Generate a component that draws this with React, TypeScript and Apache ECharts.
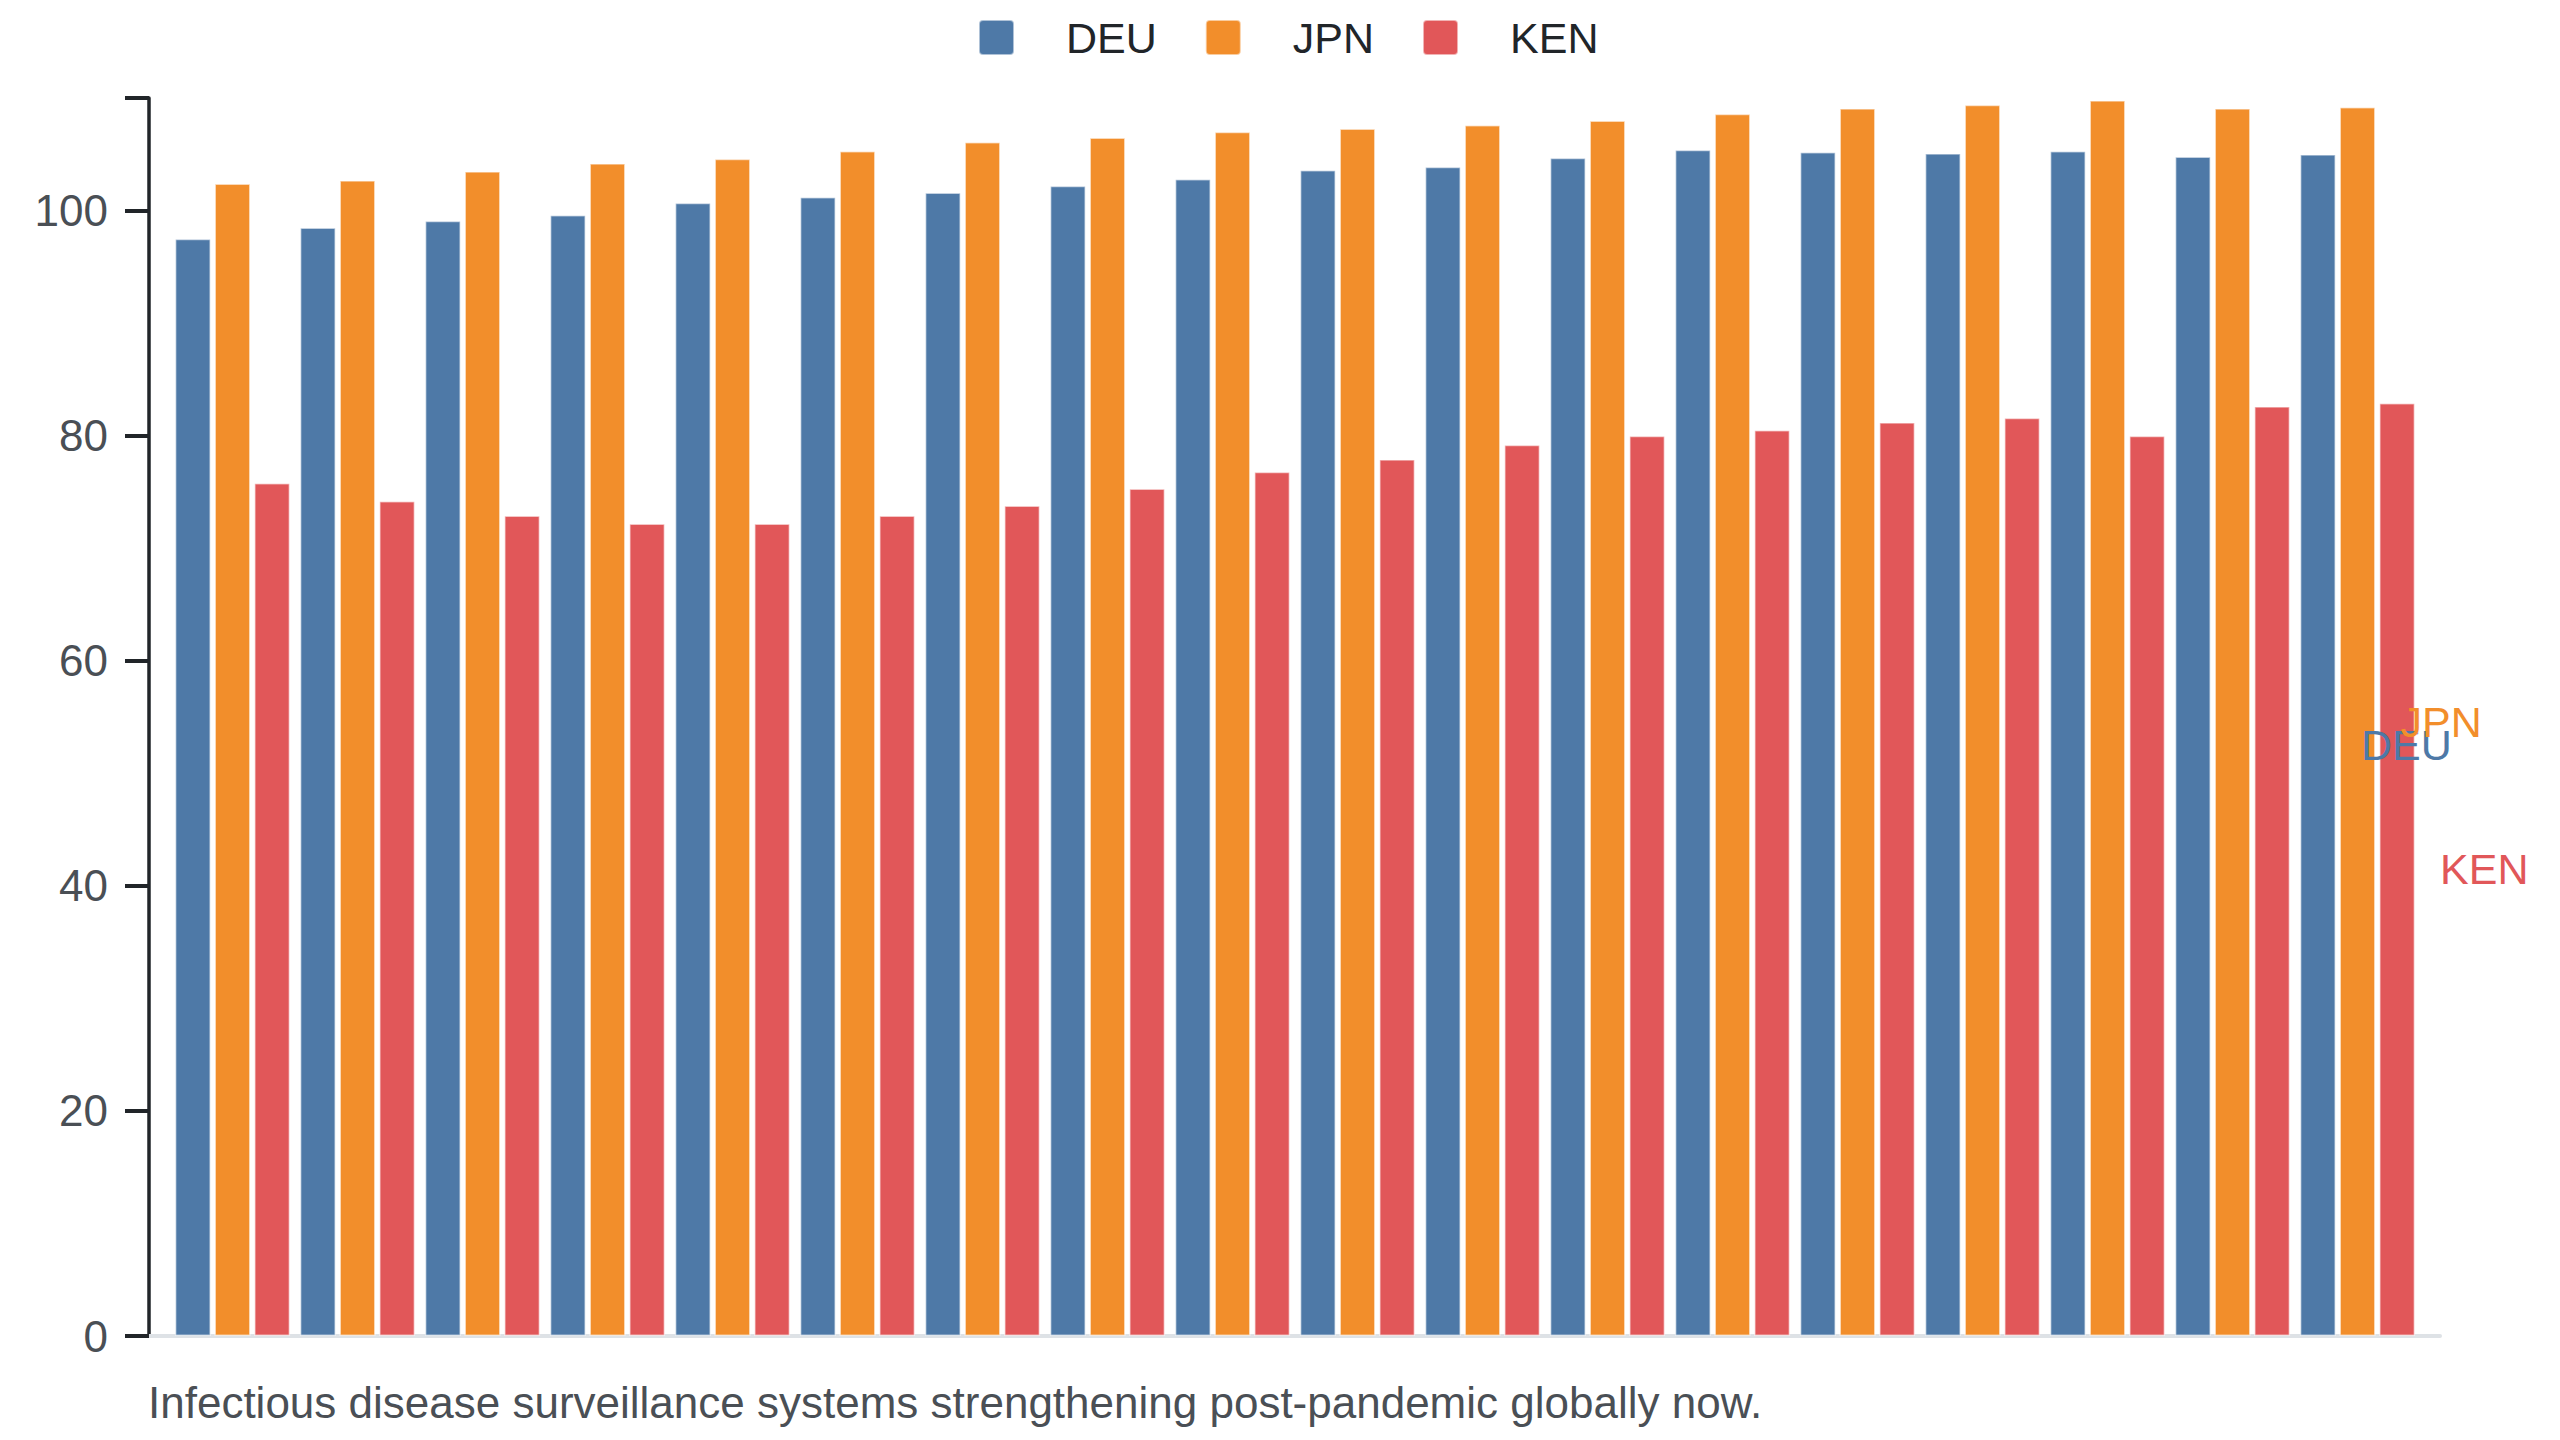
import React, { useEffect, useRef } from 'react';
import * as echarts from 'echarts';

const years = [
  '2005', '2006', '2007', '2008', '2009', '2010', '2011', '2012', '2013',
  '2014', '2015', '2016', '2017', '2018', '2019', '2020', '2021', '2022',
];
const deu = [97.5, 98.5, 99.1, 99.6, 100.7, 101.2, 101.6, 102.2, 102.8, 103.6, 103.9, 104.7, 105.4, 105.2, 105.1, 105.3, 104.8, 105.0];
const jpn = [102.4, 102.7, 103.5, 104.2, 104.6, 105.3, 106.1, 106.5, 107.0, 107.3, 107.6, 108.0, 108.6, 109.1, 109.4, 109.8, 109.1, 109.2];
const ken = [75.8, 74.2, 72.9, 72.2, 72.2, 72.9, 73.8, 75.3, 76.8, 77.9, 79.2, 80.0, 80.5, 81.2, 81.6, 80.0, 82.6, 82.9];
const yTicks = [0, 20, 40, 60, 80, 100];

const seriesNames = ['DEU', 'JPN', 'KEN'];
const seriesColors = ['#4e79a7', '#f28e2b', '#e15759'];
const seriesValues = [deu, jpn, ken];
const caption = 'Infectious disease surveillance systems strengthening post-pandemic globally now.';

const FONT = '"Liberation Sans", Arial, sans-serif';
// small-radius square for the legend markers
const LEGEND_ICON = 'path://M4,0L31,0Q35,0 35,4L35,31Q35,35 31,35L4,35Q0,35 0,31L0,4Q0,0 4,0Z';

const App: React.FC = () => {
  const chartRef = useRef<HTMLDivElement>(null);

  useEffect(() => {
    if (!chartRef.current) return;
    const chart = echarts.init(chartRef.current, undefined, { renderer: 'svg' });

    const last = years.length - 1;
    const series = seriesNames.map((name, s) => ({
      name,
      type: 'bar',
      xAxisIndex: 0,
      yAxisIndex: 0,
      barWidth: 36,
      barGap: '10%',
      itemStyle: {
        color: seriesColors[s],
        borderColor: 'rgba(255,255,255,0.55)',
        borderWidth: 1.5,
      },
      data: seriesValues[s].map((v, i) =>
        i === last
          ? {
              value: v,
              label: {
                show: true,
                position: 'right',
                distance: 25,
                formatter: name,
                color: seriesColors[s],
                fontSize: 43,
                fontFamily: FONT,
              },
            }
          : v
      ),
    }));

    const option = {
      animation: false,
      backgroundColor: '#ffffff',
      textStyle: { fontFamily: FONT },
      title: {
        text: caption,
        left: 148,
        top: 1380,
        padding: 0,
        textStyle: { fontSize: 44, fontWeight: 'normal', color: '#4a4f55', fontFamily: FONT },
      },
      legend: {
        top: 16,
        left: 978,
        padding: 0,
        itemWidth: 35,
        itemHeight: 35,
        itemGap: 48,
        icon: LEGEND_ICON,
        data: seriesNames,
        textStyle: {
          fontSize: 43,
          color: '#212529',
          fontFamily: FONT,
          padding: [0, 0, 0, 47],
          width: 100,
        },
      },
      grid: [
        { left: 170, right: 140, top: 98, bottom: 104 },
        { left: 149, right: 120, top: 98, bottom: 104 },
      ],
      xAxis: [
        {
          type: 'category',
          gridIndex: 0,
          data: years,
          axisLine: { show: false },
          axisTick: { show: false },
          axisLabel: { show: false },
        },
        {
          type: 'category',
          gridIndex: 1,
          data: years,
          axisLine: { show: true, lineStyle: { color: '#dee2e6', width: 4 } },
          axisTick: { show: false },
          axisLabel: { show: false },
        },
      ],
      yAxis: [
        {
          type: 'value',
          gridIndex: 0,
          min: 0,
          max: 110,
          show: false,
        },
        {
          type: 'value',
          gridIndex: 1,
          min: yTicks[0],
          max: 110,
          interval: 20,
          axisLine: { show: true, lineStyle: { color: '#212529', width: 3.5 } },
          axisTick: { show: true, length: 24, lineStyle: { color: '#212529', width: 4 } },
          axisLabel: {
            margin: 41,
            fontSize: 44,
            color: '#4a4f55',
            fontFamily: FONT,
            formatter: (v: number) => (yTicks.includes(v) ? String(v) : ''),
          },
          splitLine: { show: false },
        },
      ],
      series,
    };

    chart.setOption(option);

    return () => {
      chart.dispose();
    };
  }, []);

  return (
    <div
      ref={chartRef}
      style={{ position: 'absolute', left: 0, top: 0, width: '2560px', height: '1440px' }}
    />
  );
};

export default App;
